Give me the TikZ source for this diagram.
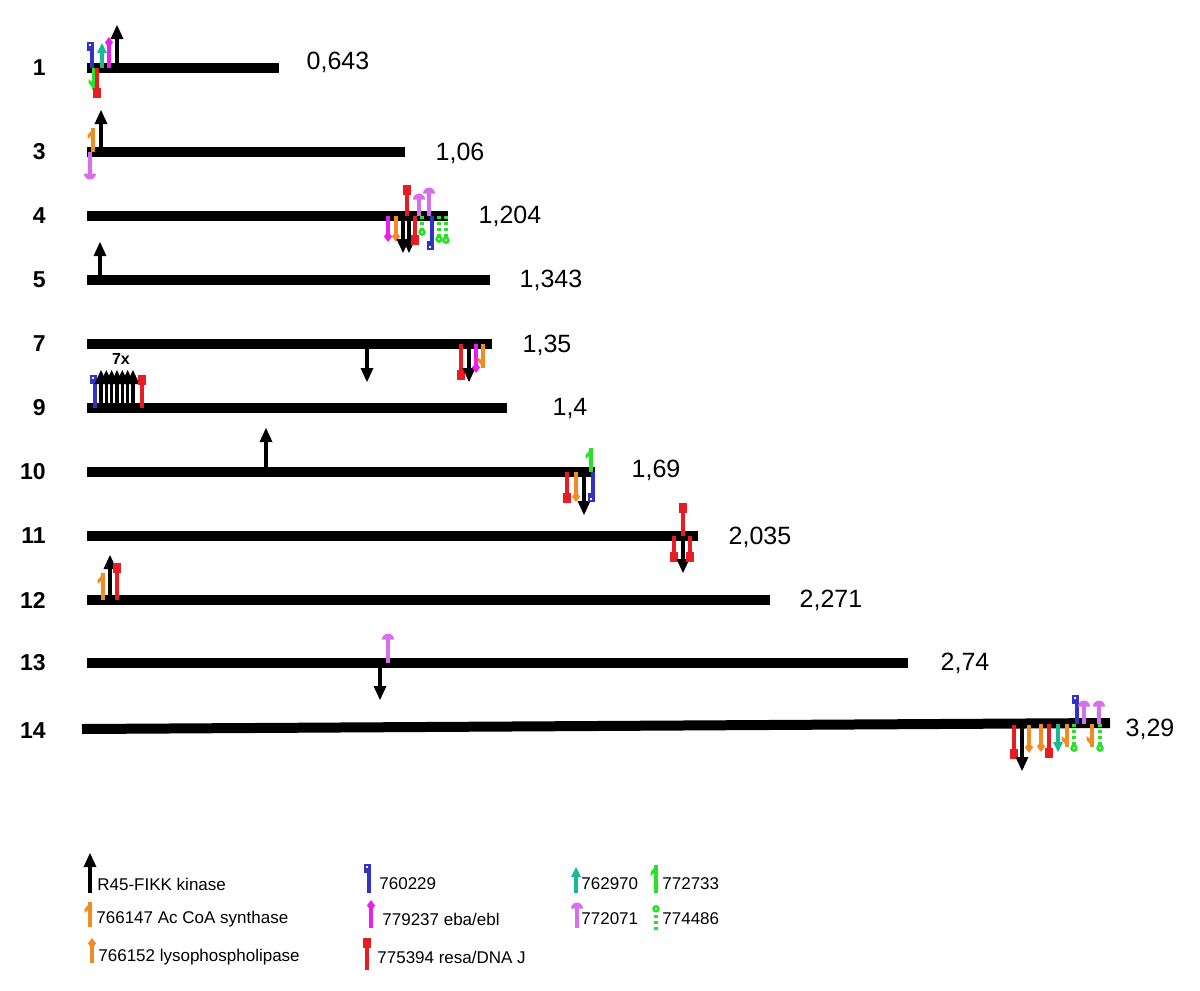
\documentclass[tikz,border=0pt]{standalone}
\usepackage{fontspec}
\setmainfont{Liberation Sans}
\definecolor{acscol}{RGB}{240,140,35}
\definecolor{blucol}{RGB}{50,50,200}
\definecolor{ebacol}{RGB}{235,30,235}
\definecolor{resacol}{RGB}{230,30,35}
\definecolor{tealcol}{RGB}{25,185,150}
\definecolor{domecol}{RGB}{215,110,235}
\definecolor{grncol}{RGB}{40,225,40}
\begin{document}
\begin{tikzpicture}[x=0.5pt,y=-0.5pt,
  chrom/.style={line width=5pt},
  stem/.style={line width=1.7pt},
  flipdown/.style={yscale=-1},
  chrlabel/.style={font=\fontsize{11.5}{13}\selectfont\bfseries,anchor=east,inner sep=0pt},
  sizelabel/.style={font=\fontsize{12.5}{15}\selectfont,inner sep=0pt},
  legtext/.style={font=\fontsize{8.5}{10}\selectfont,anchor=west,inner sep=0pt},
  mlen/.store in=\mlen, mlen=30,
  pics/bigarrow/.style={code={\draw[stem,#1] (0,0) -- (0,-\mlen+10);
    \fill[#1] (-6.5,-\mlen+14) -- (0,-\mlen) -- (6.5,-\mlen+14) -- cycle;}},
  pics/bigarrow/.default=black,
  pics/smallarrow/.style={code={\draw[stem,#1] (0,0) -- (0,-\mlen+7);
    \fill[#1] (-5,-\mlen+10) -- (0,-\mlen) -- (5,-\mlen+10) -- cycle;}},
  pics/harpoon/.style={code={\draw[stem,#1] (0,0) -- (0,-\mlen);
    \fill[#1] (0.85,-\mlen) -- (-5.5,-\mlen+7) -- (-5.5,-\mlen+11) -- (0.85,-\mlen+6) -- cycle;}},
  pics/diamond/.style={code={\draw[stem,#1] (0,0) -- (0,-\mlen+5);
    \fill[#1] (0,-\mlen) -- (4,-\mlen+5.5) -- (0,-\mlen+11) -- (-4,-\mlen+5.5) -- cycle;}},
  pics/square/.style={code={\draw[stem,#1] (0,0) -- (0,-\mlen+5);
    \fill[#1] (-4,-\mlen) rectangle (4,-\mlen+10);}},
  pics/flag/.style={code={\draw[stem,#1] (0,0) -- (0,-\mlen);
    \fill[#1] (-5.5,-\mlen) rectangle (0.85,-\mlen+9);
    \fill[white] (-3.2,-\mlen+2) rectangle (-1.5,-\mlen+4);}},
  pics/dome/.style={code={\draw[stem,#1] (0,0) -- (0,-\mlen+5);
    \fill[#1] (-6,-\mlen+6.5) arc[start angle=180,end angle=360,radius=6] -- cycle;}},
  pics/dotpin/.style={code={\draw[stem,#1,dash pattern=on 1.5pt off 1.5pt] (0,0) -- (0,-\mlen+5);
    \fill[#1] (0,-\mlen+3.8) circle[radius=3.8];
    \fill[white] (0,-\mlen+3.8) circle[radius=1];}}]
\useasboundingbox (0,0) rectangle (1200,991);

\foreach \c/\y/\e/\v/\vx/\vy in {1/68/279/{0,643}/338/62, 3/152/405/{1,06}/460/153, 4/216/448/{1,204}/510/216,
  5/280/490/{1,343}/551/280, 7/344/492/{1,35}/547/345, 9/408/507/{1,4}/570/408, 10/472/595/{1,69}/656/470,
  11/536/698/{2,035}/760/537, 12/600/770/{2,271}/831/600, 13/663/908/{2,74}/965/663}{
  \coordinate (a\c) at (87,\y);
  \coordinate (b\c) at (\e,\y);
  \draw[chrom] (a\c) -- (b\c);
  \node[chrlabel] (n\c) at (46,\y) {\c};
  \node[sizelabel] (s\c) at (\vx,\vy) {\v};
}
\coordinate (a14) at (82,729);
\coordinate (b14) at (1110,723);
\draw[chrom] (a14) -- (b14);
\node[chrlabel] (n14) at (46,731) {14};
\node[sizelabel] (s14) at (1150,729) {3,29};

% chromosome 1
\pic[mlen=26] at (92,68) {flag=blucol};
\pic[mlen=25] at (102,68) {smallarrow=tealcol};
\pic[mlen=31] at (109,68) {diamond=ebacol};
\pic[mlen=43] at (117,68) {bigarrow};
\pic[flipdown,mlen=22] at (94,68) {harpoon=grncol};
\pic[flipdown,mlen=30] at (97,68) {square=resacol};
% chromosome 3
\pic[mlen=24] at (93,152) {harpoon=acscol};
\pic[mlen=42] at (101,152) {bigarrow};
\pic[flipdown,mlen=28] at (90,152) {dome=domecol};
% chromosome 4
\pic[mlen=31] at (407,216) {square=resacol};
\pic[mlen=23] at (419,216) {dome=domecol};
\pic[mlen=29] at (429,216) {dome=domecol};
\pic[flipdown,mlen=26] at (388,216) {diamond=ebacol};
\pic[flipdown,mlen=26] at (396,216) {diamond=acscol};
\pic[flipdown,mlen=37] at (403,216) {bigarrow};
\pic[flipdown,mlen=37] at (409,216) {bigarrow};
\pic[flipdown,mlen=29] at (415,216) {square=resacol};
\pic[flipdown,mlen=20] at (422,216) {dotpin=grncol};
\pic[flipdown,mlen=34] at (432,216) {flag=blucol};
\pic[flipdown,mlen=27] at (439,216) {dotpin=grncol};
\pic[flipdown,mlen=28] at (446,216) {dotpin=grncol};
% chromosome 5
\pic[mlen=38] at (100,280) {bigarrow};
% chromosome 7
\pic[flipdown,mlen=38] at (367,344) {bigarrow};
\pic[flipdown,mlen=36] at (461,344) {square=resacol};
\pic[flipdown,mlen=38] at (469,344) {bigarrow};
\pic[flipdown,mlen=29] at (476,344) {diamond=ebacol};
\pic[flipdown,mlen=24] at (483,344) {harpoon=acscol};
% chromosome 9
\pic[mlen=33] at (95,408) {flag=blucol};
\foreach \i in {0,...,6}{\pic[mlen=38] at (101+\i*5.33,408) {bigarrow};}
\pic[mlen=33] at (142,408) {square=resacol};
\node[font=\fontsize{8}{9}\selectfont\bfseries,inner sep=0pt] (x9) at (121,359) {7x};
% chromosome 10
\pic[mlen=44] at (266,472) {bigarrow};
\pic[mlen=24] at (591,472) {harpoon=grncol};
\pic[flipdown,mlen=31] at (567,472) {square=resacol};
\pic[flipdown,mlen=30] at (576,472) {diamond=acscol};
\pic[flipdown,mlen=43] at (584,472) {bigarrow};
\pic[flipdown,mlen=30] at (593,472) {flag=blucol};
% chromosome 11
\pic[mlen=33] at (683,536) {square=resacol};
\pic[flipdown,mlen=26] at (674,536) {square=resacol};
\pic[flipdown,mlen=37] at (683,536) {bigarrow};
\pic[flipdown,mlen=26] at (690,536) {square=resacol};
% chromosome 12
\pic[mlen=27] at (103,600) {harpoon=acscol};
\pic[mlen=45] at (110,600) {bigarrow};
\pic[mlen=37] at (117,600) {square=resacol};
% chromosome 13
\pic[mlen=30] at (388,663) {dome=domecol};
\pic[flipdown,mlen=37] at (380,663) {bigarrow};
% chromosome 14
\pic[mlen=29] at (1077,724) {flag=blucol};
\pic[mlen=24] at (1084,724) {dome=domecol};
\pic[mlen=24] at (1099,724) {dome=domecol};
\pic[flipdown,mlen=34] at (1014,725) {square=resacol};
\pic[flipdown,mlen=46] at (1022,725) {bigarrow};
\pic[flipdown,mlen=28] at (1029,725) {diamond=acscol};
\pic[flipdown,mlen=28] at (1041,724) {diamond=acscol};
\pic[flipdown,mlen=34] at (1049,724) {square=resacol};
\pic[flipdown,mlen=28] at (1058,724) {smallarrow=tealcol};
\pic[flipdown,mlen=23] at (1067,724) {harpoon=acscol};
\pic[flipdown,mlen=28] at (1074,724) {dotpin=grncol};
\pic[flipdown,mlen=23] at (1092,724) {harpoon=acscol};
\pic[flipdown,mlen=28] at (1100,724) {dotpin=grncol};

% legend
\pic[mlen=40] at (90,893) {bigarrow};
\node[legtext] (l1) at (97,884) {R45-FIKK kinase};
\pic[mlen=25] at (90,927) {harpoon=acscol};
\node[legtext] (l2) at (96,919) {766147 Ac CoA synthase};
\pic[mlen=25] at (92,963) {diamond=acscol};
\node[legtext] (l3) at (98,957) {766152 lysophospholipase};
\pic[mlen=29] at (369,893) {flag=blucol};
\node[legtext] (l4) at (379,884) {760229};
\pic[mlen=28] at (371,928) {diamond=ebacol};
\node[legtext] (l5) at (382,919) {779237 eba/ebl};
\pic[mlen=32] at (367,970) {square=resacol};
\node[legtext] (l6) at (377,957) {775394 resa/DNA J};
\pic[mlen=26] at (576,893) {smallarrow=tealcol};
\node[legtext] (l7) at (581,884) {762970};
\pic[mlen=26] at (577,928) {dome=domecol};
\node[legtext] (l8) at (581,919) {772071};
\pic[mlen=28] at (656,893) {harpoon=grncol};
\node[legtext] (l9) at (662,884) {772733};
\pic[mlen=25] at (656,930) {dotpin=grncol};
\node[legtext] (l10) at (662,919) {774486};
\end{tikzpicture}
\end{document}
